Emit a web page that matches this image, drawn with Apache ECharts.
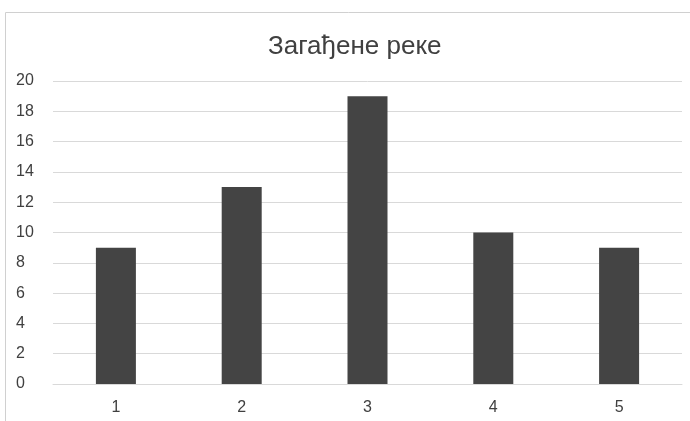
<!DOCTYPE html>
<html><head><meta charset="utf-8">
<script src="https://cdn.jsdelivr.net/npm/echarts@6/dist/echarts.min.js"></script>
<style>html,body{margin:0;padding:0;background:#fff}#c{width:690px;height:421px}</style>
</head><body><div id="c"></div>
<script>
const title = 'Загађене реке';
const categories = ['1', '2', '3', '4', '5'];
const values = [9, 13, 19, 10, 9];
const chart = echarts.init(document.getElementById('c'));
chart.setOption({
  animation: false,
  textStyle: { fontFamily: 'Liberation Sans' },
  title: { text: title, left: 263, top: 29,
    textStyle: { fontFamily: 'Liberation Sans', fontSize: 26, fontWeight: 'normal', color: '#404040' } },
  graphic: [{ type: 'rect', shape: { x: 5.5, y: 12.5, width: 700, height: 420 },
    style: { fill: 'none', stroke: '#d0d0d0', lineWidth: 1 }, silent: true }],
  grid: { left: 53, right: 8, top: 81, bottom: 37 },
  xAxis: { type: 'category', data: categories,
    axisLine: { lineStyle: { color: '#d9d9d9' } }, axisTick: { show: false },
    axisLabel: { color: '#404040', fontSize: 16, margin: 16 } },
  yAxis: { type: 'value', min: 0, max: 20, interval: 2,
    axisLine: { show: false }, axisTick: { show: false },
    splitLine: { lineStyle: { color: '#d9d9d9' } },
    axisLabel: { color: '#404040', fontSize: 16, margin: 37, align: 'left' } },
  series: [{ type: 'bar', data: values, barWidth: 40, itemStyle: { color: '#444444' } }]
});
</script></body></html>
